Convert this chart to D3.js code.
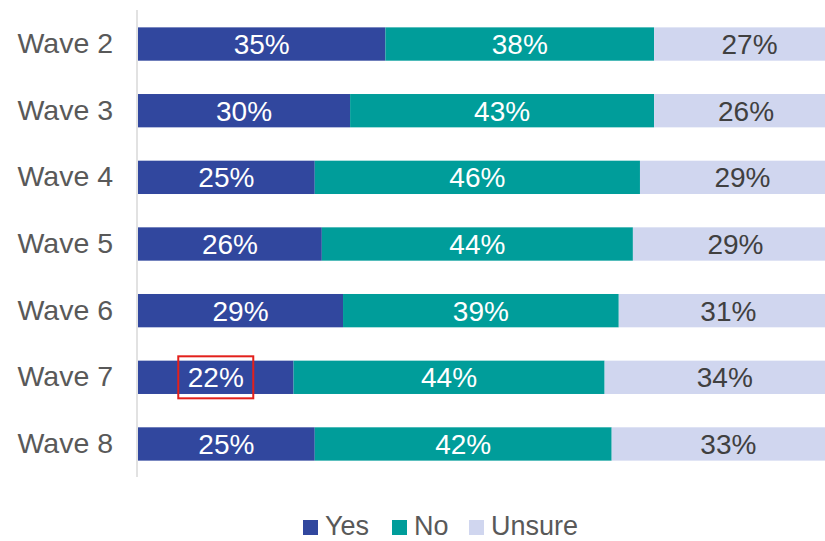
<!DOCTYPE html>
<html>
<head>
<meta charset="utf-8">
<script src="https://cdn.jsdelivr.net/npm/d3@7"></script>
<style>
  body { margin: 0; background: #fff; }
  svg { display: block; font-family: "Liberation Sans", Arial, sans-serif; }
</style>
</head>
<body>
<script>
// waves shown on the chart, top to bottom
var waves = ['Wave 2', 'Wave 3', 'Wave 4', 'Wave 5', 'Wave 6', 'Wave 7', 'Wave 8'];
var yes    = [35, 30, 25, 26, 29, 22, 25];
var no     = [38, 43, 46, 44, 39, 44, 42];
var unsure = [27, 26, 29, 29, 31, 34, 33];
var seriesNames = ['Yes', 'No', 'Unsure'];
var highlightWave = 'Wave 7';   // the label boxed in red

var width = 825, height = 541;
var colors = {Yes: '#31479e', No: '#009d9a', Unsure: '#d0d6ef'};
var labelColors = {Yes: '#ffffff', No: '#ffffff', Unsure: '#404040'};

var rows = waves.map(function(w, i) {
  return {wave: w, Yes: yes[i], No: no[i], Unsure: unsure[i]};
});

var stack = d3.stack().keys(seriesNames);
var layers = stack(rows);

var svg = d3.select('body').append('svg')
  .attr('width', width)
  .attr('height', height);

// 100% runs past the right edge, like the source picture
var x = d3.scaleLinear().domain([0, 100]).range([138, 845]);
var y = d3.scaleBand().domain(waves).range([10.7, 477.3])
  .paddingInner(0.5).paddingOuter(0.25);

var g = svg.selectAll('g.layer')
  .data(layers)
  .enter().append('g')
  .attr('class', 'layer');

g.selectAll('rect')
  .data(function(d) { return d.map(function(p) { p.key = d.key; return p; }); })
  .enter().append('rect')
  .attr('x', function(d) { return x(d[0]); })
  .attr('y', function(d) { return y(d.data.wave); })
  .attr('width', function(d) { return x(d[1]) - x(d[0]); })
  .attr('height', y.bandwidth())
  .attr('fill', function(d) { return colors[d.key]; });

g.selectAll('text')
  .data(function(d) { return d; })
  .enter().append('text')
  .attr('x', function(d) { return (x(d[0]) + x(d[1])) / 2; })
  .attr('y', function(d) { return y(d.data.wave) + y.bandwidth() / 2; })
  .attr('dy', '0.36em')
  .attr('text-anchor', 'middle')
  .attr('font-size', 28)
  .attr('fill', function(d) { return labelColors[d.key]; })
  .text(function(d) { return d.data[d.key] + '%'; });

// category axis
var yAxis = svg.append('g')
  .attr('transform', 'translate(137,0)')
  .call(d3.axisLeft(y).tickSize(0).tickPadding(24));
yAxis.select('.domain').remove();
yAxis.append('line')
  .attr('y1', 10).attr('y2', 477)
  .attr('stroke', '#d9d9d9').attr('stroke-width', 1.5);
yAxis.selectAll('text')
  .attr('font-size', 28.5)
  .attr('font-family', '"Liberation Sans", Arial, sans-serif')
  .attr('fill', '#595959');

// red box around the Wave 7 "Yes" label
var hl = rows.find(function(r) { return r.wave === highlightWave; });
var hlCx = (x(0) + x(hl.Yes)) / 2;
var hlCy = y(highlightWave) + y.bandwidth() / 2;
svg.append('rect')
  .attr('x', hlCx - 37.5)
  .attr('y', hlCy - 21)
  .attr('width', 75)
  .attr('height', 42)
  .attr('fill', 'none')
  .attr('stroke', '#e3201b')
  .attr('stroke-width', 2);

// legend
var legendX = [303, 392, 469];
var legend = svg.selectAll('g.legend')
  .data(seriesNames)
  .enter().append('g')
  .attr('class', 'legend')
  .attr('transform', function(d, i) { return 'translate(' + legendX[i] + ',520)'; });
legend.append('rect')
  .attr('width', 15).attr('height', 15)
  .attr('fill', function(d) { return colors[d]; });
legend.append('text')
  .attr('x', 22).attr('y', 15)
  .attr('font-size', 27)
  .attr('fill', '#595959')
  .text(function(d) { return d; });
</script>
</body>
</html>
